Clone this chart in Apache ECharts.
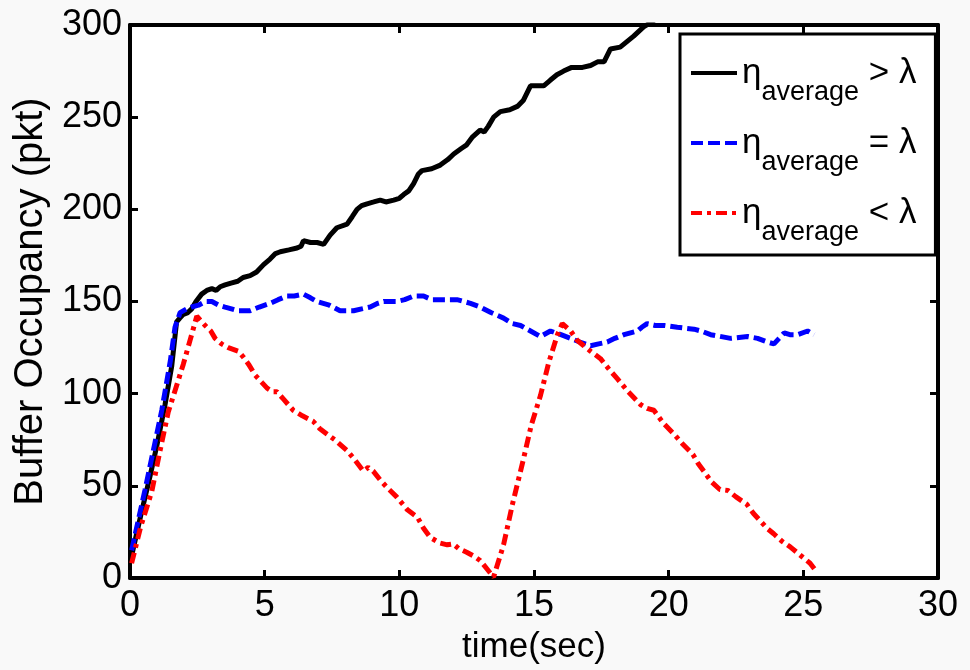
<!DOCTYPE html>
<html>
<head>
<meta charset="utf-8">
<script src="https://cdn.jsdelivr.net/npm/echarts@6/dist/echarts.min.js"></script>
<style>
html,body{margin:0;padding:0;background:#f9f9f9;}
#chart{width:970px;height:670px;}
</style>
</head>
<body>
<div id="chart"></div>
<script>
// ---- data (time in sec, buffer occupancy in pkt) ----
const seriesNames = ['gt', 'eq', 'lt'];
const legendRelations = ['>', '=', '<'];
const xTicks = [0, 5, 10, 15, 20, 25, 30];
const yTicks = [0, 50, 100, 150, 200, 250, 300];

const greaterData = [
  [0.06,12],[0.4,34],[0.74,55],[1.0,72],[1.3,94],[1.55,115],[1.73,139],[1.85,141],[1.98,143],[2.15,144],
  [2.29,146],[2.45,150],[2.66,154],[2.85,156],[3.04,157],[3.2,156],[3.35,158],[3.53,159],[3.75,160],[4.0,161],
  [4.2,163],[4.46,164],[4.7,166],[4.96,170],[5.2,173],[5.4,176],[5.58,177],[5.9,178],[6.2,179],[6.35,180],
  [6.44,183],[6.7,182],[6.95,182],[7.19,181],[7.43,186],[7.68,190],[8.06,192],[8.25,196],[8.43,200],[8.6,202],
  [8.8,203],[9.05,204],[9.29,205],[9.5,204],[9.79,205],[10.0,206],[10.16,208],[10.35,210],[10.53,214],[10.7,219],
  [10.84,221],[11.2,222],[11.52,224],[11.8,227],[12.02,230],[12.3,233],[12.5,235],[12.7,239],[13.0,243],[13.15,242],
  [13.3,245],[13.5,250],[13.75,253],[14.1,254],[14.4,256],[14.6,259],[14.87,267],[15.1,267],[15.36,267],[15.6,270],
  [15.85,273],[16.1,275],[16.4,277],[16.8,277],[17.1,278],[17.36,280],[17.6,280],[17.84,287],[18.2,288],[18.45,291],
  [18.7,294],[19.07,299],[19.3,301],[19.6,304]
];

const equalData = [
  [0.06,15],[0.56,48],[1.18,91],[1.5,118],[1.67,136],[1.86,144],[2.1,146],[2.29,147],[2.54,148],[2.8,150],
  [3.04,150],[3.3,148],[3.53,147],[4.0,145],[4.46,145],[4.8,147],[5.2,149],[5.5,151],[5.83,153],[6.1,153],
  [6.44,154],[6.7,152],[6.94,150],[7.4,148],[7.8,145],[8.3,145],[8.6,146],[8.92,147],[9.2,149],[9.42,150],
  [9.9,150],[10.2,151],[10.53,153],[10.9,153],[11.2,151],[11.52,151],[12.14,151],[12.4,150],[12.64,149],[13.0,147],
  [13.4,144],[13.87,141],[14.2,138],[14.5,137],[14.87,134],[15.24,131],[15.61,134],[16.0,132],[16.36,130],[16.7,128],
  [17.1,126],[17.4,127],[17.72,128],[18.0,130],[18.34,132],[18.84,134],[19.0,136],[19.2,138],[19.5,137],[19.83,137],
  [20.32,136],[20.94,135],[21.2,134],[21.56,132],[22.3,130],[22.93,131],[23.3,130],[23.67,128],[23.91,127],[24.1,130],
  [24.29,133],[24.5,132],[24.78,132],[25.16,134],[25.4,132]
];

const lessData = [
  [0.06,8],[0.4,28],[0.81,47],[1.1,68],[1.42,90],[1.7,103],[1.98,116],[2.25,130],[2.48,142],[2.79,137],
  [3.0,134],[3.16,130],[3.4,127],[3.65,125],[4.03,123],[4.2,120],[4.4,116],[4.65,110],[4.9,106],[5.09,103],
  [5.3,101],[5.46,101],[5.7,97],[6.06,91],[6.4,88],[6.8,85],[7.05,81],[7.32,78],[7.6,75],[8.07,69],
  [8.35,64],[8.66,58],[8.85,60],[9.03,58],[9.3,53],[9.55,49],[9.9,44],[10.3,37],[10.67,33],[10.9,27],
  [11.15,22],[11.5,19],[11.78,18],[12.0,18.5],[12.2,16],[12.5,14],[12.75,12],[13.0,9.5],[13.25,5],[13.5,0.5],
  [13.87,18],[14.2,40],[14.6,64],[14.9,83],[15.24,99],[15.55,117],[15.87,132],[16.05,138],[16.36,134],[16.6,129],
  [16.85,126],[17.1,123],[17.47,119],[17.8,113],[18.1,108],[18.5,101],[18.96,94],[19.2,92],[19.45,91],[19.8,84],
  [20.2,78],[20.5,73],[20.9,67],[21.1,62],[21.3,58],[21.6,52],[21.9,48],[22.2,47.5],[22.5,44],[22.9,40],
  [23.15,35],[23.4,31],[23.65,27],[23.9,24],[24.2,20],[24.5,17],[24.75,14],[25.0,11],[25.25,8],[25.46,4]
];

// ---- chart ----
const FONT = "'Liberation Sans', Arial, sans-serif";
const chart = echarts.init(document.getElementById('chart'), null, {renderer: 'canvas'});

function mkLine() { return {show: true, onZero: false, lineStyle: {color: '#000', width: 4}}; }
function mkTick() { return {show: true, inside: true, length: 8, lineStyle: {color: '#000', width: 3}}; }

const option = {
  backgroundColor: '#f9f9f9',
  animation: false,
  grid: {left: 130, right: 32, top: 25, bottom: 89, show: true, backgroundColor: '#ffffff', borderWidth: 0},
  legend: {
    orient: 'vertical',
    left: 680, top: 34,
    padding: [6, 19, 9, 9],
    itemGap: 4,
    itemWidth: 46, itemHeight: 14,
    backgroundColor: '#ffffff',
    borderColor: '#000', borderWidth: 3,
    itemStyle: {opacity: 0},
    lineStyle: {width: 4},
    data: seriesNames,
    formatter: function (name) {
      const rel = legendRelations[seriesNames.indexOf(name)];
      return '{eta|η}{sub|average}{rel| ' + rel + ' λ}';
    },
    textStyle: {
      color: '#000', fontFamily: FONT,
      rich: {
        eta: {fontSize: 35, lineHeight: 60, fontFamily: FONT, color: '#000'},
        sub: {fontSize: 27, lineHeight: 20, padding: [39, 0, 0, 0], fontFamily: FONT, color: '#000'},
        rel: {fontSize: 35, lineHeight: 60, fontFamily: FONT, color: '#000'}
      }
    }
  },
  xAxis: [
    {
      type: 'value', position: 'bottom', min: 0, max: 30, interval: 5,
      axisLine: mkLine(), axisTick: mkTick(), splitLine: {show: false},
      axisLabel: {fontSize: 36, color: '#000', fontFamily: FONT, margin: 10,
        formatter: v => (xTicks.indexOf(v) >= 0 ? String(v) : '')},
      name: 'time(sec)', nameLocation: 'middle', nameGap: 52,
      nameTextStyle: {fontSize: 35, color: '#000', fontFamily: FONT}
    },
    {
      type: 'value', position: 'top', min: 0, max: 30, interval: 5,
      axisLine: mkLine(), axisTick: mkTick(), splitLine: {show: false},
      axisLabel: {show: false}
    }
  ],
  yAxis: [
    {
      type: 'value', position: 'left', min: 0, max: 300, interval: 50,
      axisLine: mkLine(), axisTick: mkTick(), splitLine: {show: false},
      axisLabel: {fontSize: 36, color: '#000', fontFamily: FONT, margin: 8,
        formatter: v => (yTicks.indexOf(v) >= 0 ? String(v) : '')},
      name: 'Buffer Occupancy (pkt)', nameLocation: 'middle', nameGap: 69, nameRotate: 90,
      nameTextStyle: {fontSize: 40, color: '#000', fontFamily: FONT}
    },
    {
      type: 'value', position: 'right', min: 0, max: 300, interval: 50,
      axisLine: mkLine(), axisTick: mkTick(), splitLine: {show: false},
      axisLabel: {show: false}
    }
  ],
  series: [
    {
      name: seriesNames[0], type: 'line', data: greaterData, showSymbol: false, symbol: 'none',
      clip: true, xAxisIndex: 0, yAxisIndex: 0,
      lineStyle: {color: '#000000', width: 5, type: 'solid'},
      itemStyle: {color: '#000000'}
    },
    {
      name: seriesNames[1], type: 'line', data: equalData, showSymbol: false, symbol: 'none',
      clip: true, xAxisIndex: 0, yAxisIndex: 0,
      lineStyle: {color: '#0000ff', width: 5, type: [12, 5]},
      itemStyle: {color: '#0000ff'}
    },
    {
      name: seriesNames[2], type: 'line', data: lessData, showSymbol: false, symbol: 'none',
      clip: true, xAxisIndex: 0, yAxisIndex: 0,
      lineStyle: {color: '#ff0000', width: 5, type: [11, 5, 4, 5]},
      itemStyle: {color: '#ff0000'}
    }
  ]
};
chart.setOption(option);
</script>
</body>
</html>
